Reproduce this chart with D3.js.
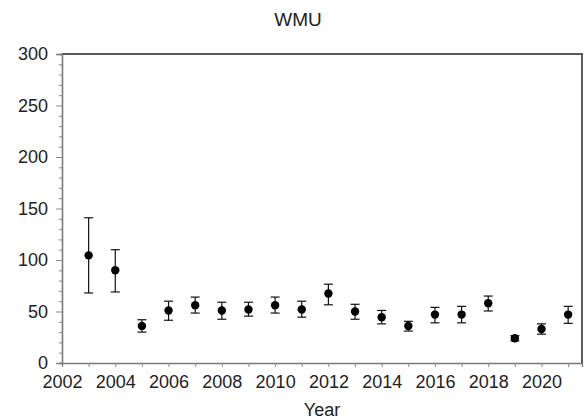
<!DOCTYPE html>
<html>
<head>
<meta charset="utf-8">
<script src="https://cdn.jsdelivr.net/npm/d3@7"></script>
<style>
  body { margin: 0; background: #fff; }
  text { font-family: Arial, "Liberation Sans", sans-serif; fill: #222; }
</style>
</head>
<body>
<svg id="chart" width="584" height="419"></svg>
<script>
// values
var years = [2003, 2004, 2005, 2006, 2007, 2008, 2009, 2010, 2011, 2012,
             2013, 2014, 2015, 2016, 2017, 2018, 2019, 2020, 2021]
var estimate = [104.5, 90, 36, 51, 56, 51, 52, 56, 52, 67.5,
                50, 44.5, 36, 47, 47, 58, 24, 33, 47]
var upper = [141, 110, 42, 60, 64, 59, 59, 64, 60, 76.5,
             57, 51, 40.5, 54, 55, 65, 26.5, 38, 55]
var lower = [68, 69, 30, 41.5, 48.5, 42.5, 45.5, 48.5, 44.5, 56.5,
             42.5, 38, 31, 39, 39, 50.5, 21.5, 28, 38.5]
var yTicks = [0, 50, 100, 150, 200, 250, 300]
var xTicks = [2002, 2004, 2006, 2008, 2010, 2012, 2014, 2016, 2018, 2020]

var data = years.map((y, i) => ({ year: y, est: estimate[i], hi: upper[i], lo: lower[i] }))

var svg = d3.select("#chart")
var plotLeft = 62, plotRight = 582, plotTop = 54, plotBottom = 363

var x = d3.scaleLinear().domain([2002, 2021.52]).range([plotLeft, plotRight])
var y = d3.scaleLinear().domain([0, 300]).range([plotBottom, plotTop])

// title
svg.append("text")
  .attr("x", 298).attr("y", 26)
  .attr("text-anchor", "middle")
  .style("font-size", "19px")
  .text("WMU")

// frame top + right
svg.append("path")
  .attr("d", `M${plotLeft},${plotTop}H${plotRight}V${plotBottom}`)
  .attr("fill", "none")
  .attr("stroke", "#5a5a5a")
  .attr("stroke-width", 2)

// y axis: majors every 50 and minors every 10
var yAxis = svg.append("g").attr("transform", `translate(${plotLeft},0)`)
  .call(d3.axisLeft(y).tickValues(yTicks).tickSize(6).tickPadding(8))
yAxis.append("g")
  .call(d3.axisLeft(y).tickValues(d3.range(0, 301, 10).filter(d => d % 50)).tickSize(3).tickFormat(""))
yAxis.selectAll(".domain").attr("stroke", "#777").attr("stroke-width", 1.3)
yAxis.selectAll("line").attr("stroke", "#888")
yAxis.selectAll("text").style("font-size", "18px").style("fill", "#222")

// x axis: tick every year, label every 2
var xAxis = svg.append("g").attr("transform", `translate(0,${plotBottom})`)
  .call(d3.axisBottom(x).tickValues(d3.range(2002, 2022)).tickSize(4).tickPadding(8)
        .tickFormat(d => xTicks.includes(d) ? d : ""))
xAxis.selectAll(".domain").attr("stroke", "#777").attr("stroke-width", 1.3)
xAxis.selectAll("line").attr("stroke", "#888")
xAxis.selectAll("text").style("font-size", "18px").style("fill", "#222")

svg.append("text")
  .attr("x", 322).attr("y", 416)
  .attr("text-anchor", "middle")
  .style("font-size", "18px")
  .text("Year")

// error bars
var bars = svg.append("g").attr("stroke", "#111").attr("stroke-width", 1.2)
bars.selectAll(".whisker")
  .data(data)
  .join("line")
  .attr("class", "whisker")
  .attr("x1", d => x(d.year)).attr("x2", d => x(d.year))
  .attr("y1", d => y(d.hi)).attr("y2", d => y(d.lo))
bars.selectAll(".cap")
  .data(data.flatMap(d => [{ year: d.year, v: d.hi }, { year: d.year, v: d.lo }]))
  .join("line")
  .attr("class", "cap")
  .attr("x1", d => x(d.year) - 4.5).attr("x2", d => x(d.year) + 4.5)
  .attr("y1", d => y(d.v)).attr("y2", d => y(d.v))

svg.selectAll(".dot")
  .data(data)
  .join("circle")
  .attr("class", "dot")
  .attr("cx", d => x(d.year))
  .attr("cy", d => y(d.est))
  .attr("r", 4.2)
  .attr("fill", "#000")
</script>
</body>
</html>
